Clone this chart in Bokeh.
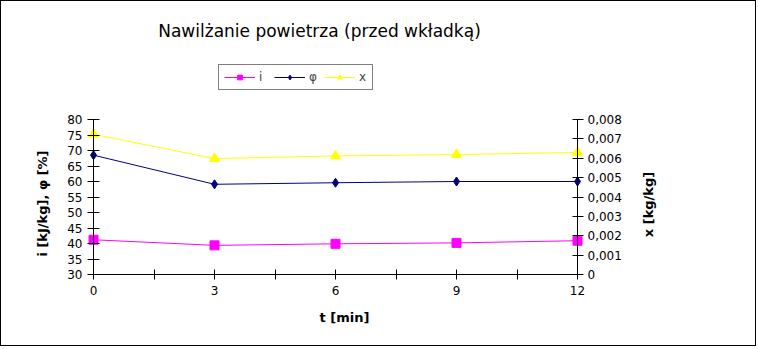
import math
from bokeh.plotting import figure
from bokeh.models import (Range1d, LinearAxis, FixedTicker, Legend, LegendItem, Label)
from bokeh.embed import file_html
from bokeh.resources import INLINE

# Data
t = [0, 3, 6, 9, 12]
i_vals = [41.2, 39.4, 39.9, 40.2, 40.9]
phi_vals = [68.5, 59.1, 59.6, 60.0, 60.0]
x_vals = [0.00724, 0.00598, 0.00612, 0.00619, 0.00630]

x_ticks = [0, 3, 6, 9, 12]
x_minor = [1.5, 4.5, 7.5, 10.5]
left_ticks = [30, 35, 40, 45, 50, 55, 60, 65, 70, 75, 80]
right_ticks = [0, 0.001, 0.002, 0.003, 0.004, 0.005, 0.006, 0.007, 0.008]
right_labels = ["0", "0,001", "0,002", "0,003", "0,004", "0,005", "0,006", "0,007", "0,008"]

title_text = "Nawilżanie powietrza (przed wkładką)"
FONT = "DejaVu Sans"

# layout (pixels): the frame covers the whole canvas; the axes are fixed at
# the edges of the data area so every text lies inside the frame
W, H = 756, 346
AX_L, AX_R, AX_T, AX_B = 92, 576, 118, 273
x_lo, x_hi = x_ticks[0], x_ticks[-1]
y_lo, y_hi = left_ticks[0], left_ticks[-1]
r_lo, r_hi = right_ticks[0], right_ticks[-1]
kx = (x_hi - x_lo) / (AX_R - AX_L)
ky = (y_hi - y_lo) / (AX_B - AX_T)
kr = (r_hi - r_lo) / (AX_B - AX_T)
x_range = Range1d(x_lo - AX_L * kx, x_hi + (W - AX_R) * kx)
y_range = Range1d(y_lo - (H - AX_B) * ky, y_hi + AX_T * ky)
r_range = Range1d(r_lo - (H - AX_B) * kr, r_hi + AX_T * kr)

p = figure(width=W, height=H, output_backend="svg", toolbar_location=None,
           x_range=x_range, y_range=y_range, min_border=0,
           x_axis_type=None, y_axis_type=None)
p.title_location = None
p.styles = {"border": "1px solid black"}
p.outline_line_color = None
p.xgrid.visible = False
p.ygrid.visible = False
p.background_fill_color = "white"
p.border_fill_color = "white"
p.extra_y_ranges = {"x": r_range}

# bottom axis, fixed at the bottom of the value axes
xa = LinearAxis(ticker=FixedTicker(ticks=x_ticks, minor_ticks=x_minor),
                bounds=(x_lo, x_hi), fixed_location=y_lo)
xa.major_tick_in = 5
xa.major_tick_out = 5
xa.minor_tick_in = 5
xa.minor_tick_out = 5
xa.major_label_standoff = 6
xa.major_label_text_font = FONT
xa.major_label_text_font_size = "12px"
xa.major_label_text_color = "black"
p.add_layout(xa, "below")

# left axis, fixed at t = 0
ya = LinearAxis(ticker=FixedTicker(ticks=left_ticks, minor_ticks=[]),
                bounds=(y_lo, y_hi), fixed_location=x_lo)
ya.major_tick_in = 6
ya.major_tick_out = 6
ya.major_label_standoff = 5
ya.major_label_text_font = FONT
ya.major_label_text_font_size = "12px"
ya.major_label_text_color = "black"
p.add_layout(ya, "left")

# right axis, fixed at t = 12
ra = LinearAxis(y_range_name="x", ticker=FixedTicker(ticks=right_ticks, minor_ticks=[]),
                bounds=(r_lo, r_hi), fixed_location=x_hi)
ra.major_label_overrides = {v: s for v, s in zip(right_ticks, right_labels)}
ra.major_tick_in = 5
ra.major_tick_out = 6
ra.major_label_standoff = 4
ra.major_label_text_font = FONT
ra.major_label_text_font_size = "12px"
ra.major_label_text_color = "black"
p.add_layout(ra, "right")

# series
li = p.line(t, i_vals, line_color="#FF00FF", line_width=1)
si = p.scatter(t, i_vals, marker="square", size=9, fill_color="#FF00FF", line_color="#FF00FF")
lp = p.line(t, phi_vals, line_color="#000080", line_width=1)
sp = p.scatter(t, phi_vals, marker="diamond", size=9, fill_color="#000080", line_color="#000080")
lx = p.line(t, x_vals, line_color="#FFFF00", line_width=1, y_range_name="x")
sx = p.scatter(t, x_vals, marker="triangle", size=10, fill_color="#FFFF00", line_color="#FFFF00", y_range_name="x")

legend = Legend(items=[LegendItem(label="i", renderers=[li, si]),
                       LegendItem(label="φ", renderers=[lp, sp]),
                       LegendItem(label="x", renderers=[lx, sx])],
                orientation="horizontal", location=(217, 257))
legend.border_line_color = "black"
legend.border_line_width = 1
legend.padding = 5
legend.margin = 0
legend.glyph_width = 31
legend.glyph_height = 12
legend.label_standoff = 4
legend.spacing = 7
legend.label_width = 8
legend.label_height = 12
legend.label_text_font = FONT
legend.label_text_font_size = "12px"
legend.background_fill_alpha = 1
p.add_layout(legend, "center")

# title and axis titles
def add_text(x, y, text, size, bold=False, angle=0.0):
    p.add_layout(Label(x=x, y=y, x_units="screen", y_units="screen", text=text,
                       text_font=FONT, text_font_size=size,
                       text_font_style="bold" if bold else "normal",
                       text_align="center", text_baseline="middle", angle=angle,
                       text_color="black"))

add_text(318, 317, title_text, "17px")
add_text(343, 30, "t [min]", "13px", bold=True)
add_text(41, 144, "i [kJ/kg], φ [%]", "13px", bold=True, angle=math.pi / 2)
add_text(647, 143, "x [kg/kg]", "13px", bold=True, angle=math.pi / 2)

open("out.html", "w").write(file_html(p, INLINE))
